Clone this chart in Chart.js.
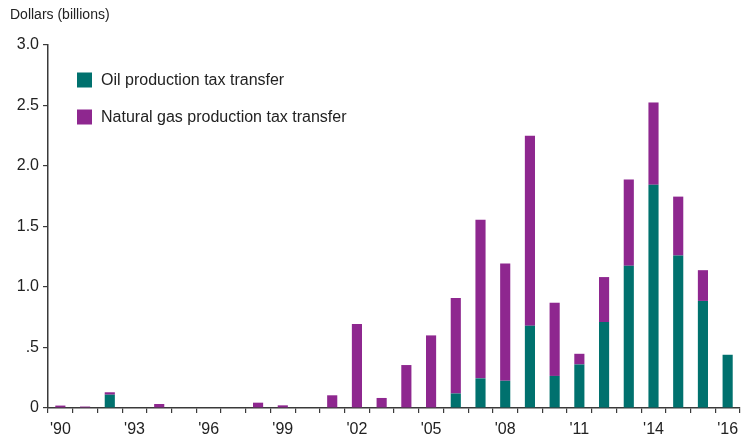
<!DOCTYPE html>
<html>
<head>
<meta charset="utf-8">
<script src="https://cdn.jsdelivr.net/npm/chart.js@4.4.0/dist/chart.umd.min.js"></script>
<style>
  html, body { margin: 0; padding: 0; background: #fff; }
  #wrap { width: 741px; height: 443px; position: relative; }
</style>
</head>
<body>
<div id="wrap"><canvas id="chart"></canvas></div>
<script>
// years shown on the x axis (the last bar is labelled '16 in the original)
const years = [1990, 1991, 1992, 1993, 1994, 1995, 1996, 1997, 1998, 1999,
               2000, 2001, 2002, 2003, 2004, 2005, 2006, 2007, 2008, 2009,
               2010, 2011, 2012, 2013, 2014, 2015, 2016, 2017];
const xTickLabels = ["'90", '', '', "'93", '', '', "'96", '', '', "'99",
                     '', '', "'02", '', '', "'05", '', '', "'08", '',
                     '', "'11", '', '', "'14", '', '', "'16"];

// billions of dollars
const oilTransfer = [0, 0, 0.11, 0, 0, 0, 0, 0, 0, 0,
                     0, 0, 0, 0, 0, 0, 0.12, 0.245, 0.225, 0.68,
                     0.265, 0.36, 0.71, 1.175, 1.845, 1.26, 0.885, 0.44];
const gasTransfer = [0.02, 0.012, 0.02, 0, 0.033, 0, 0, 0, 0.044, 0.022,
                     0, 0.105, 0.694, 0.083, 0.355, 0.60, 0.79, 1.31, 0.97, 1.57,
                     0.605, 0.088, 0.372, 0.714, 0.68, 0.487, 0.254, 0];

const yTickLabels = ['0', '.5', '1.0', '1.5', '2.0', '2.5', '3.0'];

const FONT = "'Liberation Sans Narrow', 'Arial Narrow', 'Liberation Sans', sans-serif";
const TEAL = '#00716e';
const PURPLE = '#8e278f';
const AXIS = '#3a3a3a';

// title + legend drawn straight onto the canvas
const overlay = {
    id: 'overlay',
    afterDraw(chart) {
        const ctx = chart.ctx;
        ctx.save();
        ctx.fillStyle = '#222';
        ctx.textBaseline = 'middle';
        ctx.textAlign = 'left';
        ctx.font = '14px ' + FONT;
        ctx.fillText('Dollars (billions)', 10, 15);

        ctx.font = '16px ' + FONT;
        chart.data.datasets.forEach((ds, i) => {
            const y = 80 + i * 37;
            ctx.fillStyle = ds.backgroundColor;
            ctx.fillRect(77, y - 7.5, 15, 15);
            ctx.fillStyle = '#222';
            ctx.fillText(ds.label, 101, y + 1);
        });
        ctx.restore();
    }
};

new Chart(document.getElementById('chart'), {
    type: 'bar',
    data: {
        labels: years,
        datasets: [
            {
                label: 'Oil production tax transfer',
                data: oilTransfer,
                backgroundColor: TEAL,
                borderWidth: 0
            },
            {
                label: 'Natural gas production tax transfer',
                data: gasTransfer,
                backgroundColor: PURPLE,
                borderWidth: 0
            }
        ]
    },
    options: {
        responsive: true,
        maintainAspectRatio: false,
        animation: false,
        datasets: {
            bar: { categoryPercentage: 1, barPercentage: 0.41 }
        },
        layout: { padding: { top: 45, right: 1, left: 0, bottom: 0 } },
        plugins: {
            legend: { display: false },
            tooltip: { enabled: false }
        },
        scales: {
            x: {
                stacked: true,
                grid: {
                    offset: true,
                    drawOnChartArea: false,
                    drawTicks: true,
                    tickLength: 5,
                    color: AXIS,
                    lineWidth: 1.2
                },
                border: { display: true, color: AXIS, width: 1.5 },
                ticks: {
                    autoSkip: false,
                    maxRotation: 0,
                    padding: 7,
                    color: '#222',
                    font: { family: FONT, size: 16 },
                    callback: (v, i) => xTickLabels[i]
                },
                afterFit: (scale) => {
                    scale.height = 35;
                    scale.paddingLeft = 0;
                    scale.paddingRight = 0;
                }
            },
            y: {
                stacked: true,
                min: 0,
                max: 3,
                grid: {
                    drawOnChartArea: false,
                    drawTicks: true,
                    tickLength: 5,
                    color: AXIS,
                    lineWidth: 1.2
                },
                border: { display: true, color: AXIS, width: 1.5 },
                ticks: {
                    stepSize: 0.5,
                    padding: 4,
                    color: '#222',
                    font: { family: FONT, size: 16 },
                    callback: (v, i) => yTickLabels[i]
                },
                afterFit: (scale) => { scale.width = 48; }
            }
        }
    },
    plugins: [overlay]
});
</script>
</body>
</html>
